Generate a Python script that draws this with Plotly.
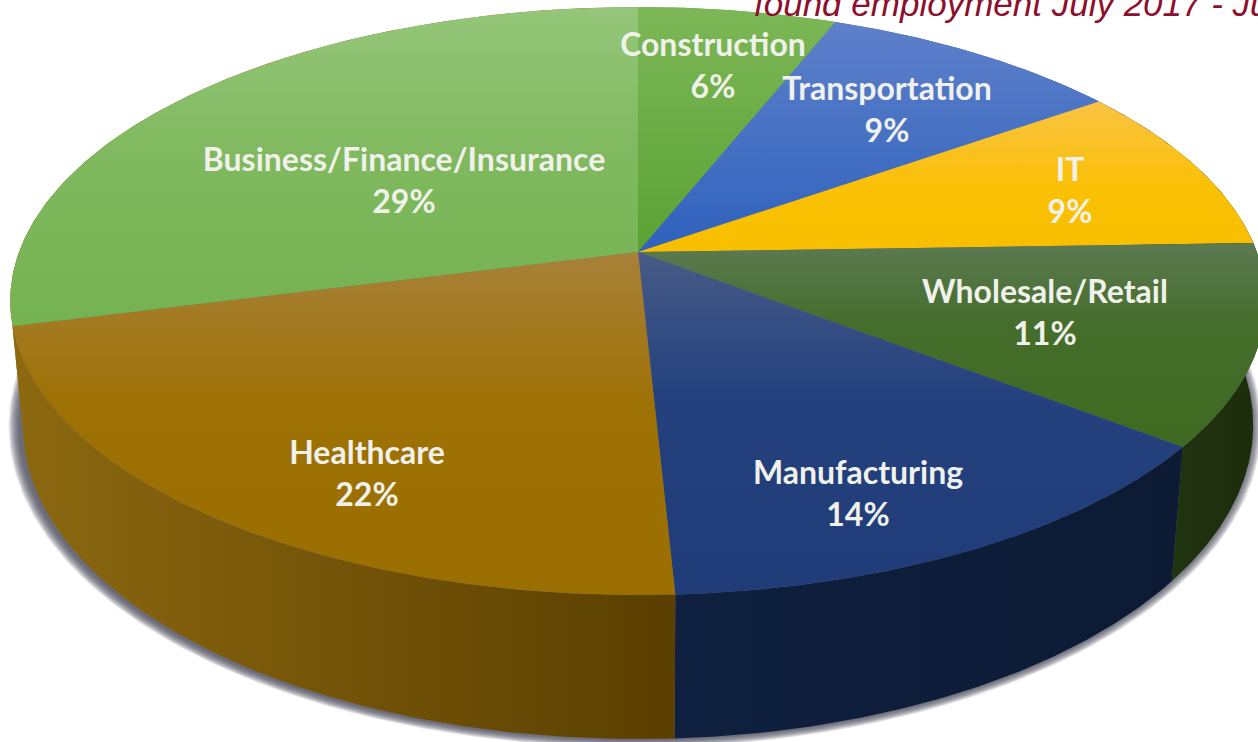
import numpy as np
import plotly.graph_objects as go

# ---- data ----
categories = ["Construction", "Transportation", "IT", "Wholesale/Retail",
              "Manufacturing", "Healthcare", "Business/Finance/Insurance"]
shares = [6.0, 9.2, 9.3, 11.0, 13.7, 21.8, 29.0]
title_text = "found employment July 2017 - Ju"

# ---- styles ----
top_colors = [
    [(0, "#7db757"), (1, "#5aa234")],
    [(0, "#5f80ca"), (1, "#2e62bd")],
    [(0, "#f9c343"), (0.6, "#fac003"), (1, "#f8bf00")],
    [(0, "#5c7a52"), (0.4, "#456d2b"), (1, "#3d6a20")],
    [(0, "#485b86"), (0.4, "#25427f"), (1, "#1f3c78")],
    [(0, "#a88139"), (0.45, "#9d7104"), (1, "#9a6e00")],
    [(0, "#95c67a"), (0.45, "#80b95f"), (1, "#75b251")],
]
wall_colors = [
    ["#5aa234", "#5aa234"],
    ["#2e62bd", "#2e62bd"],
    ["#1c2c0c", "#1c2c0c"],
    ["#1c2c0c", "#20330f"],
    ["#0c1a33", "#0f2040"],
    ["#5a3f00", "#8c6810"],
    ["#8c6810", "#8c6810"],
]
label_x = [713, 887, 1070, 1045, 858, 367, 404]
label_y = [69, 113, 194, 316, 497, 477, 184]

# ---- projection of the disc ----
CX, CY, A, B, K = 638.0, 252.0, 619.0, 285.8, 0.1667
SX, SY, DROP = 0.98, 1.068, 120.7


def top_rim(theta):
    u, v = np.sin(theta), np.cos(theta)
    w = 1 + K * v
    return CX + A * u / w, CY - B * v / w


def low_rim(theta, grow_x=0.0, grow_y=0.0, dx=0.0):
    u, v = np.sin(theta), np.cos(theta)
    w = 1 + K * v
    return (CX + dx + (SX * A + grow_x) * u / w,
            CY + DROP - (SY * B + grow_y) * v / w)


edges = np.cumsum([0.0] + shares) / sum(shares) * 2 * np.pi
fig = go.Figure()

# soft shadow beneath the pie
t_all = np.linspace(0, 2 * np.pi, 361)
for i in range(12):
    f = (12 - i) / 12
    px, py = low_rim(t_all, 11 * f, 7 * f, -3)
    fig.add_trace(go.Scatter(x=px, y=py, mode="lines", line=dict(width=0),
                             fill="toself",
                             fillcolor="rgba(75,78,95,0.13)",
                             hoverinfo="skip", showlegend=False))

# outer walls
for i in range(len(shares)):
    t = np.linspace(edges[i], edges[i + 1], 120)
    x1, y1 = top_rim(t)
    x2, y2 = low_rim(t)
    xs = np.concatenate([x1, x2[::-1]])
    ys = np.concatenate([y1, y2[::-1]])
    fig.add_trace(go.Scatter(
        x=xs, y=ys, mode="lines", line=dict(width=0), fill="toself",
        fillgradient=dict(type="horizontal", start=xs.min(), stop=xs.max(),
                          colorscale=[[0, wall_colors[i][1]], [1, wall_colors[i][0]]]),
        hoverinfo="skip", showlegend=False))

# top faces
for i in range(len(shares)):
    t = np.linspace(edges[i], edges[i + 1], 160)
    x1, y1 = top_rim(t)
    xs = np.concatenate([[CX], x1, [CX]])
    ys = np.concatenate([[CY], y1, [CY]])
    fig.add_trace(go.Scatter(
        x=xs, y=ys, mode="lines", line=dict(width=0), fill="toself",
        fillgradient=dict(type="vertical", start=ys.min(), stop=ys.max(),
                          colorscale=[[p, c] for p, c in top_colors[i]]),
        hoverinfo="skip", showlegend=False))

# labels
fig.add_trace(go.Scatter(
    x=label_x, y=label_y, mode="text",
    text=[f"{c}<br>{round(s)}%" for c, s in zip(categories, shares)],
    textposition="middle center",
    textfont=dict(family="Lato", size=32, color="#f0f1ea", weight=700),
    cliponaxis=False, hoverinfo="skip", showlegend=False))

fig.add_annotation(x=752, y=25, xref="x", yref="y", text=title_text,
                   xanchor="left", yanchor="bottom", showarrow=False,
                   font=dict(family="Liberation Sans", size=35, color="#8c0f2e", style="italic"))

fig.update_layout(
    width=1258, height=742, margin=dict(l=0, r=0, t=0, b=0),
    paper_bgcolor="white", plot_bgcolor="white", showlegend=False,
    xaxis=dict(range=[0, 1258], visible=False, fixedrange=True),
    yaxis=dict(range=[742, 0], visible=False, fixedrange=True),
)
fig.write_html("out.html", config={"displayModeBar": False},
               post_script="document.body.style.margin='0';document.body.style.overflow='hidden';")
